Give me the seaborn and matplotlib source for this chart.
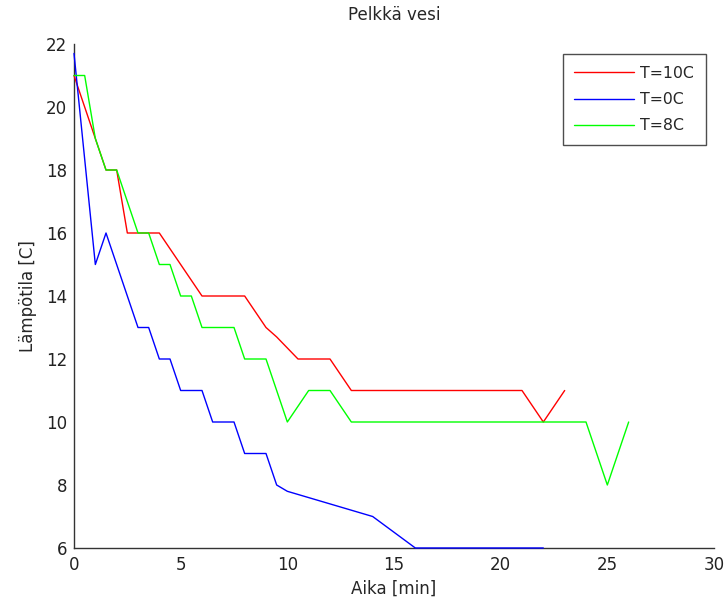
import numpy as np
import pandas as pd
import matplotlib
matplotlib.use("Agg")
import matplotlib.pyplot as plt
import seaborn as sns

# Data
t_red = [0, 0.5, 1, 1.5, 2, 2.5, 3, 3.5, 4, 5, 6, 7, 8, 9, 9.5, 10, 10.5, 11, 12, 13,
         14, 15, 16, 17, 18, 19, 20, 21, 22, 23]
y_red = [21, 20, 19, 18, 18, 16, 16, 16, 16, 15, 14, 14, 14, 13, 12.7, 12.35, 12, 12, 12, 11,
         11, 11, 11, 11, 11, 11, 11, 11, 10, 11]

t_blue = [0, 1, 1.5, 2, 2.5, 3, 3.5, 4, 4.5, 5, 5.5, 6, 6.5, 7, 7.5, 8, 8.5, 9, 9.5,
          10, 14, 15, 16, 17, 18, 19, 20, 21, 22]
y_blue = [21.7, 15, 16, 15, 14, 13, 13, 12, 12, 11, 11, 11, 10, 10, 10, 9, 9, 9, 8,
          7.8, 7, 6.5, 6, 6, 6, 6, 6, 6, 6]

t_green = [0, 0.5, 1, 1.5, 2, 2.5, 3, 3.5, 4, 4.5, 5, 5.5, 6, 6.5, 7, 7.5, 8, 8.5, 9,
           10, 11, 12, 13, 14, 16, 18, 20, 22, 24, 25, 26]
y_green = [21, 21, 19, 18, 18, 17, 16, 16, 15, 15, 14, 14, 13, 13, 13, 13, 12, 12, 12,
           10, 11, 11, 10, 10, 10, 10, 10, 10, 10, 8, 10]

labels = ["T=10C", "T=0C", "T=8C"]
colors = ["#ff0000", "#0000ff", "#00ff00"]

xticks = [0, 5, 10, 15, 20, 25, 30]
yticks = [6, 8, 10, 12, 14, 16, 18, 20, 22]

df = pd.concat([
    pd.DataFrame({"t": t_red, "y": y_red, "s": labels[0]}),
    pd.DataFrame({"t": t_blue, "y": y_blue, "s": labels[1]}),
    pd.DataFrame({"t": t_green, "y": y_green, "s": labels[2]}),
], ignore_index=True)

sns.set_style("white")
plt.rcParams["font.family"] = ["DejaVu Sans"]

fig = plt.figure(figsize=(7.27, 6.01), dpi=100)
ax = fig.add_axes([74 / 727, 1 - 548 / 601, 640 / 727, 504 / 601])

sns.lineplot(data=df, x="t", y="y", hue="s", palette=dict(zip(labels, colors)),
             estimator=None, sort=False, linewidth=1.0, ax=ax)
for ln in ax.lines:
    ln.set_zorder(3)
    ln.set_clip_on(False)

ax.set_xlim(0, 30)
ax.set_ylim(6, 22)
ax.set_xticks(xticks)
ax.set_yticks(yticks)
ax.tick_params(direction="in", length=5, width=1, labelsize=12, colors="#222222")
ax.tick_params(axis="x", pad=6)
ax.tick_params(axis="y", pad=5)
for side in ["top", "right"]:
    ax.spines[side].set_visible(False)
for side in ["left", "bottom"]:
    ax.spines[side].set_color("#333333")
    ax.spines[side].set_linewidth(1.0)

ax.set_title("Pelkkä vesi", fontsize=12, pad=17)
ax.set_xlabel("Aika [min]", fontsize=12, labelpad=4)
ax.set_ylabel("Lämpötila [C]", fontsize=12, labelpad=6)

leg = ax.legend(loc="upper right", bbox_to_anchor=(706 / 727, 1 - 54 / 601),
                bbox_transform=fig.transFigure, borderaxespad=0, fontsize=11.3,
                frameon=True, fancybox=False, edgecolor="#222222", handlelength=3.8,
                handletextpad=0.4, borderpad=0.75, labelspacing=0.72, title=None)
leg.get_frame().set_linewidth(1.0)

fig.savefig("out.png", dpi=100)
